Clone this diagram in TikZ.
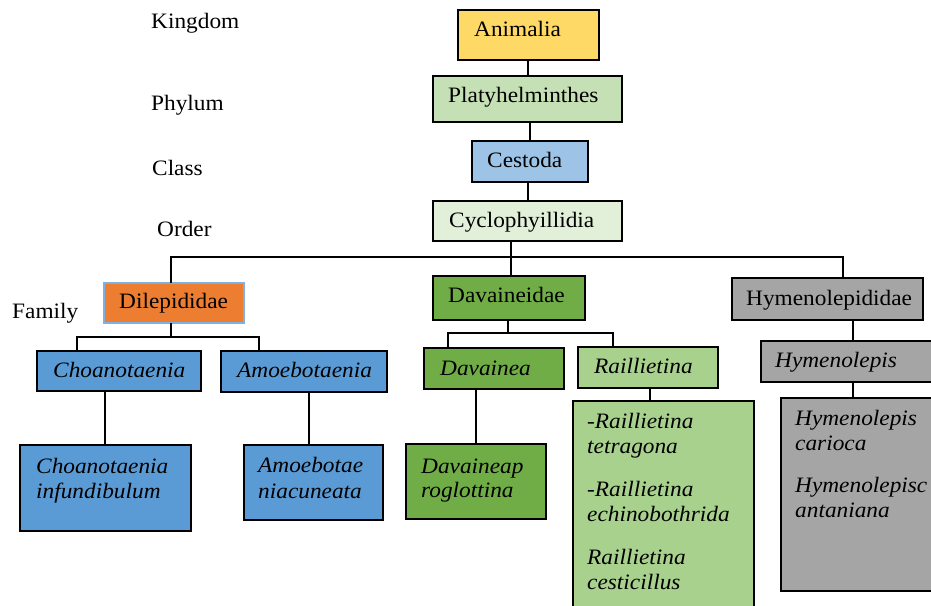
\documentclass[tikz,border=0pt]{standalone}
\usepackage{fontspec}
\setmainfont{Liberation Serif}[FakeStretch=1.06]
\definecolor{cYel}{HTML}{FFD966}
\definecolor{cPla}{HTML}{C5E0B4}
\definecolor{cCes}{HTML}{9DC3E6}
\definecolor{cCyc}{HTML}{E2F0D9}
\definecolor{cOra}{HTML}{ED7D31}
\definecolor{cBlu}{HTML}{5B9BD5}
\definecolor{cBor}{HTML}{7EB1E0}
\definecolor{cGrn}{HTML}{70AD47}
\definecolor{cLgr}{HTML}{A9D18E}
\definecolor{cGry}{HTML}{A5A5A5}
\newcommand\bx[6]{\node[bxs, fill=#6, minimum width={#4-#2}, minimum height={#5-#3}] (#1) at ({(#2+#4)/2},{(#3+#5)/2}) {};}
\begin{document}
\begin{tikzpicture}[x=1pt,y=-1pt,
  bxs/.style={draw=black, line width=1.6pt, inner sep=0pt, outer sep=0pt},
  ln/.style={line width=1.3pt},
  txt/.style={inner sep=0pt, anchor=base west, font=\fontsize{22}{26}\selectfont},
  itx/.style={txt, font=\fontsize{22}{26}\selectfont\itshape}]
\useasboundingbox (0,0) rectangle (931,605);
\clip (0,0) rectangle (931,605);
% rank labels
\node[txt] (lK) at (151,28) {Kingdom};
\node[txt] (lP) at (151,110) {Phylum};
\node[txt] (lC) at (152,175) {Class};
\node[txt] (lO) at (157,236) {Order};
\node[txt] (lF) at (12,318) {Family};
% boxes
\bx{anim}{458}{10}{599}{60}{cYel}
\bx{platy}{433}{76}{622}{122}{cPla}
\bx{cest}{472}{141}{588}{182}{cCes}
\bx{cyc}{433}{201}{622}{241}{cCyc}
\node[bxs, draw=cBor, fill=cOra, minimum width=140, minimum height=40] (dil) at (174,303) {};
\bx{dav}{433}{276}{585}{320}{cGrn}
\bx{hym}{732}{278}{923}{320}{cGry}
\bx{cho}{37}{351}{201}{391}{cBlu}
\bx{amo}{221}{351}{387}{392}{cBlu}
\bx{choS}{20}{445}{191}{531}{cBlu}
\bx{amoS}{244}{445}{383}{520}{cBlu}
\bx{davn}{424}{348}{564}{389}{cGrn}
\bx{rai}{578}{347}{718}{388}{cLgr}
\bx{davS}{406}{444}{546}{519}{cGrn}
\bx{raiS}{573}{401}{754}{625}{cLgr}
\bx{hyml}{761}{341}{950}{382}{cGry}
\bx{hymS}{781}{398}{950}{591}{cGry}
% coordinates for connectors
\coordinate (x528) at (528,0);
\coordinate (x530) at (530,0);
\coordinate (bL) at (171,257);
\coordinate (bM) at (511,257);
\coordinate (bR) at (843,257);
\coordinate (dJ) at (171,337);
\coordinate (dL) at (77,337);
\coordinate (dR) at (259,337);
\coordinate (x105) at (105,0);
\coordinate (x309) at (309,0);
\coordinate (vJ) at (508,333);
\coordinate (vL) at (448,333);
\coordinate (vR) at (613,333);
\coordinate (x476) at (476,0);
\coordinate (x650) at (650,0);
\coordinate (x853) at (853,0);
% connectors
\draw[ln] (anim.south -| x528) -- (platy.north -| x528);
\draw[ln] (platy.south -| x530) -- (cest.north -| x530);
\draw[ln] (cest.south -| x528) -- (cyc.north -| x528);
\draw[ln] (cyc.south -| bM) -- (dav.north -| bM);
\draw[ln] (dil.north -| bL) -- (bL) -- (bR) -- (hym.north -| bR);
\draw[ln] (dil.south -| dJ) -- (dJ);
\draw[ln] (cho.north -| dL) -- (dL) -- (dR) -- (amo.north -| dR);
\draw[ln] (cho.south -| x105) -- (choS.north -| x105);
\draw[ln] (amo.south -| x309) -- (amoS.north -| x309);
\draw[ln] (dav.south -| vJ) -- (vJ);
\draw[ln] (davn.north -| vL) -- (vL) -- (vR) -- (rai.north -| vR);
\draw[ln] (davn.south -| x476) -- (davS.north -| x476);
\draw[ln] (rai.south -| x650) -- (raiS.north -| x650);
\draw[ln] (hym.south -| x853) -- (hyml.north -| x853);
\draw[ln] (hyml.south -| x853) -- (hymS.north -| x853);
% texts
\node[txt] (tAnim) at (474,36) {Animalia};
\node[txt] (tPla) at (448,102) {Platyhelminthes};
\node[txt] (tCes) at (487,167) {Cestoda};
\node[txt] (tCyc) at (449,227) {Cyclophyillidia};
\node[txt] (tDil) at (119,308) {Dilepididae};
\node[txt] (tDav) at (448,302) {Davaineidae};
\node[txt] (tHym) at (746,305) {Hymenolepididae};
\node[itx] (tCho) at (53,377) {Choanotaenia};
\node[itx] (tAmo) at (237,377) {Amoebotaenia};
\node[itx] (tChoS1) at (36,473) {Choanotaenia};
\node[itx] (tChoS2) at (36,498) {infundibulum};
\node[itx] (tAmoS1) at (258,472) {Amoebotae};
\node[itx] (tAmoS2) at (258,498) {niacuneata};
\node[itx] (tDavn) at (440,375) {Davainea};
\node[itx] (tRai) at (594,373) {Raillietina};
\node[itx] (tDavS1) at (421,473) {Davaineap};
\node[itx] (tDavS2) at (421,497) {roglottina};
\node[itx] (tR1) at (587,428) {-Raillietina};
\node[itx] (tR2) at (587,453) {tetragona};
\node[itx] (tR3) at (587,496) {-Raillietina};
\node[itx] (tR4) at (587,521) {echinobothrida};
\node[itx] (tR5) at (587,564) {Raillietina};
\node[itx] (tR6) at (587,589) {cesticillus};
\node[itx] (tHyml) at (775,367) {Hymenolepis};
\node[itx] (tH1) at (795,425) {Hymenolepis};
\node[itx] (tH2) at (795,450) {carioca};
\node[itx] (tH3) at (795,492) {Hymenolepisc};
\node[itx] (tH4) at (795,517) {antaniana};
\end{tikzpicture}
\end{document}
